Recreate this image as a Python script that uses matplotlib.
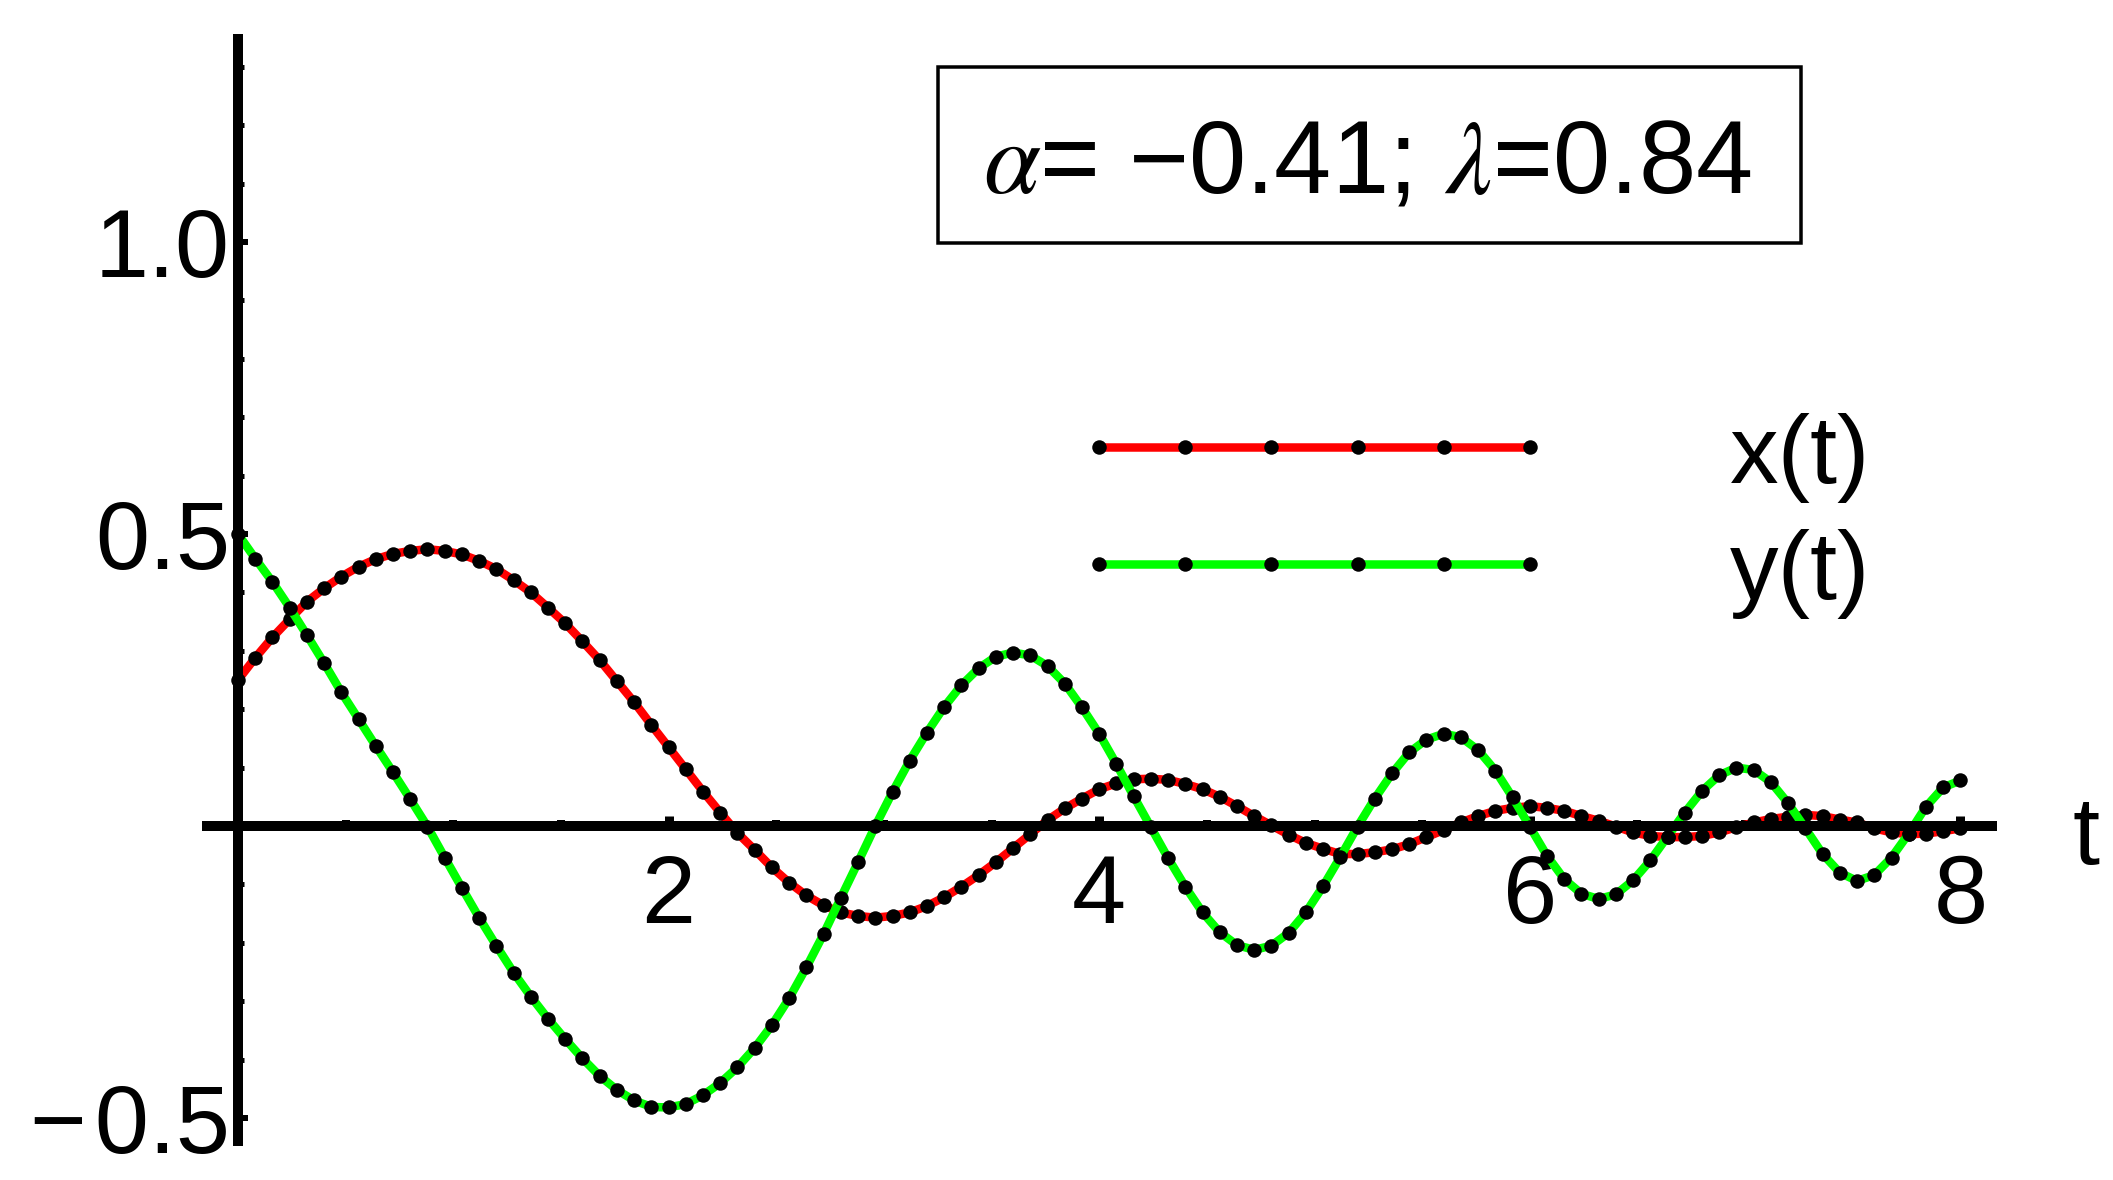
import numpy as np
import matplotlib
matplotlib.use("Agg")
import matplotlib.pyplot as plt
from matplotlib.lines import Line2D
from matplotlib.legend_handler import HandlerLine2D
from matplotlib.patches import Rectangle
from matplotlib.font_manager import FontProperties

# ---------------- data ----------------
T_STEP = 0.08
t_vals = np.round(np.arange(101) * T_STEP, 2)

x_vals = [0.250, 0.288, 0.323, 0.354, 0.384, 0.407, 0.427, 0.444, 0.457, 0.466,
          0.471, 0.474, 0.471, 0.465, 0.454, 0.440, 0.421, 0.400, 0.374, 0.347,
          0.316, 0.284, 0.248, 0.212, 0.173, 0.135, 0.097, 0.059, 0.023, -0.012,
          -0.041, -0.071, -0.097, -0.119, -0.136, -0.148, -0.154, -0.157, -0.154, -0.148,
          -0.137, -0.122, -0.104, -0.084, -0.062, -0.038, -0.014, 0.010, 0.030, 0.047,
          0.063, 0.073, 0.080, 0.081, 0.079, 0.072, 0.063, 0.050, 0.034, 0.017,
          0.001, -0.015, -0.029, -0.039, -0.048, -0.048, -0.045, -0.040, -0.031, -0.019,
          -0.007, 0.006, 0.017, 0.026, 0.031, 0.034, 0.031, 0.026, 0.017, 0.009,
          -0.001, -0.011, -0.017, -0.019, -0.019, -0.017, -0.011, -0.002, 0.006, 0.012,
          0.016, 0.019, 0.017, 0.011, 0.006, -0.004, -0.011, -0.014, -0.013, -0.009,
          -0.004]

y_vals = [0.500, 0.458, 0.418, 0.374, 0.327, 0.279, 0.229, 0.183, 0.137, 0.092,
          0.046, -0.001, -0.054, -0.106, -0.157, -0.205, -0.251, -0.292, -0.330, -0.365,
          -0.398, -0.428, -0.452, -0.470, -0.481, -0.482, -0.476, -0.461, -0.440, -0.413,
          -0.380, -0.341, -0.295, -0.242, -0.185, -0.123, -0.062, 0.000, 0.058, 0.112,
          0.160, 0.204, 0.241, 0.270, 0.290, 0.297, 0.292, 0.274, 0.244, 0.203,
          0.158, 0.106, 0.051, -0.002, -0.055, -0.104, -0.148, -0.182, -0.204, -0.212,
          -0.205, -0.183, -0.148, -0.103, -0.053, -0.001, 0.047, 0.090, 0.126, 0.148,
          0.158, 0.152, 0.130, 0.095, 0.049, -0.001, -0.051, -0.091, -0.116, -0.125,
          -0.117, -0.093, -0.059, -0.018, 0.023, 0.060, 0.087, 0.100, 0.096, 0.075,
          0.039, -0.004, -0.048, -0.080, -0.094, -0.084, -0.054, -0.013, 0.033, 0.066,
          0.078]

series_names = ["x(t)", "y(t)"]
x_major = [2, 4, 6, 8]
x_major_labels = ["2", "4", "6", "8"]
x_minor = [0.5, 1.0, 1.5, 2.5, 3.0, 3.5, 4.5, 5.0, 5.5, 6.5, 7.0, 7.5]
y_major = [-0.5, 0.5, 1.0]
y_major_labels = ["\u2212\u200a0.5", "0.5", "1.0"]
y_minor = [-0.4, -0.3, -0.2, -0.1, 0.1, 0.2, 0.3, 0.4, 0.6, 0.7, 0.8, 0.9,
           1.1, 1.2, 1.3]
x_axis_label = "t"
box_text = "$\\alpha$= \u22120.41; $\\lambda$=0.84"

# ---------------- layout / style ----------------
W, H = 2113, 1180
X0, XU = 238.0, 215.3     # pixel of t=0, pixels per unit t
Y0, YU = 826.0, 584.0     # pixel (from top) of value 0, pixels per unit
PX = 72.0 / 100.0         # points per pixel

RED = "#ff0000"
GREEN = "#00ff00"
LW = 8.5 * PX
MS = 14.5 * PX
AXW = 10 * PX
FONT = "Liberation Sans"
FS = 70

plt.rcParams["font.family"] = [FONT, "DejaVu Sans"]
plt.rcParams["mathtext.fontset"] = "stix"

fig = plt.figure(figsize=(W / 100, H / 100), dpi=100)
fig.patch.set_facecolor("white")
ax = fig.add_axes([0, 0, 1, 1])
ax.set_xlim(-X0 / XU, (W - X0) / XU)
ax.set_ylim(-(H - Y0) / YU, Y0 / YU)

# curves
ax.plot(t_vals, x_vals, color=RED, lw=LW, solid_joinstyle="round", zorder=2)
ax.plot(t_vals, x_vals, "o", color="black", ms=MS, mew=0, zorder=3)
ax.plot(t_vals, y_vals, color=GREEN, lw=LW, solid_joinstyle="round", zorder=4)
ax.plot(t_vals, y_vals, "o", color="black", ms=MS, mew=0, zorder=4.5)

# axes through the origin
for s in ["top", "right"]:
    ax.spines[s].set_visible(False)
ax.spines["bottom"].set_position(("data", 0))
ax.spines["left"].set_position(("data", 0))
ax.spines["bottom"].set_bounds(-0.167, 8.17)
ax.spines["left"].set_bounds(-0.548, 1.356)
for s in ["bottom", "left"]:
    ax.spines[s].set_linewidth(AXW)
    ax.spines[s].set_capstyle("butt")
    ax.spines[s].set_zorder(5)

ax.set_xticks(x_major)
ax.set_xticklabels(x_major_labels)
ax.set_xticks(x_minor, minor=True)
ax.set_yticks(y_major)
ax.set_yticklabels(y_major_labels)
ax.set_yticks(y_minor, minor=True)
ax.tick_params(axis="x", which="major", direction="in", length=10 * PX, width=9 * PX,
               pad=27 * PX, labelsize=FS)
ax.tick_params(axis="x", which="minor", direction="in", length=6.5 * PX, width=8 * PX)
ax.tick_params(axis="y", which="major", direction="in", length=10 * PX, width=6 * PX,
               pad=8 * PX, labelsize=FS)
ax.tick_params(axis="y", which="minor", direction="in", length=5.5 * PX, width=5 * PX)

ax.text((2086 - X0) / XU, (Y0 - 864) / YU, x_axis_label, ha="center", va="baseline",
        fontsize=FS)

# parameter box
fig.patches.append(Rectangle((938 / W, 1 - 243 / H), (1801 - 938) / W, (243 - 67) / H,
                             transform=fig.transFigure, fill=False, lw=3.5 * PX,
                             edgecolor="black"))
fig.text(1367 / W, 1 - 192 / H, box_text, ha="center", va="baseline", fontsize=74)

# legend
h1 = Line2D([], [], color=RED, lw=LW, marker="o", ms=MS, mfc="black", mec="black", mew=0)
h2 = Line2D([], [], color=GREEN, lw=LW, marker="o", ms=MS, mfc="black", mec="black", mew=0)
LFS = 70
em = LFS / PX
leg = ax.legend([h1, h2], series_names, loc="upper left",
                bbox_to_anchor=(1099 / W, 1 - 412 / H), bbox_transform=fig.transFigure,
                frameon=False, numpoints=6,
                handler_map={Line2D: HandlerLine2D(marker_pad=0)},
                handlelength=431 / em, handleheight=0.80, handletextpad=200 / em,
                labelspacing=0.26, borderpad=0, borderaxespad=0,
                prop=FontProperties(family=FONT, size=LFS))

fig.savefig("out.png", dpi=100, facecolor="white")
